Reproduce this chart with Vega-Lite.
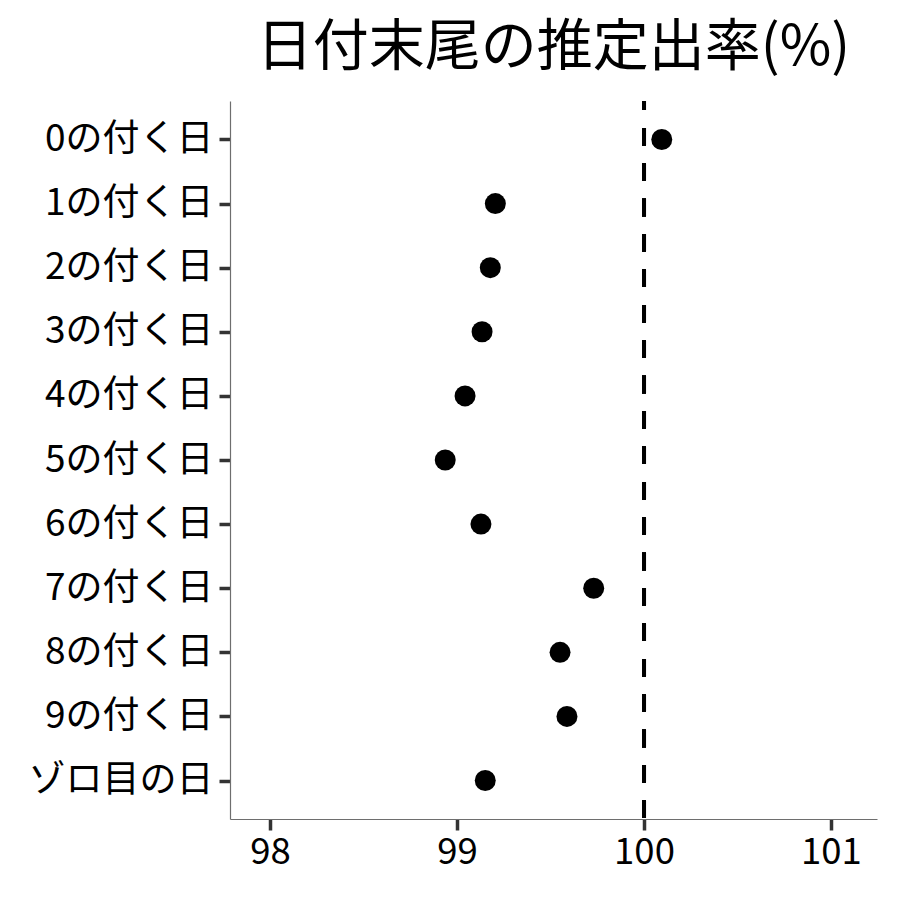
{
  "$schema": "https://vega.github.io/schema/vega-lite/v6.json",
  "autosize": "none",
  "width": 647,
  "height": 718,
  "padding": {"left": 230, "top": 101, "right": 23, "bottom": 81},
  "background": "white",
  "config": {
    "view": {"stroke": null},
    "font": "Noto Sans CJK JP"
  },
  "title": {
    "text": "日付末尾の推定出率(%)",
    "fontSize": 56,
    "fontWeight": "normal",
    "font": "Noto Sans CJK JP",
    "color": "black",
    "anchor": "middle",
    "frame": "group",
    "offset": 22
  },
  "data": {
    "values": [
      {"label": "0の付く日", "rate": 100.095},
      {"label": "1の付く日", "rate": 99.205},
      {"label": "2の付く日", "rate": 99.178},
      {"label": "3の付く日", "rate": 99.134},
      {"label": "4の付く日", "rate": 99.043},
      {"label": "5の付く日", "rate": 98.937},
      {"label": "6の付く日", "rate": 99.128},
      {"label": "7の付く日", "rate": 99.731},
      {"label": "8の付く日", "rate": 99.551},
      {"label": "9の付く日", "rate": 99.588},
      {"label": "ゾロ目の日", "rate": 99.151}
    ]
  },
  "layer": [
    {
      "mark": {"type": "rule", "color": "black", "strokeWidth": 4, "strokeDash": [17.5, 17.9], "strokeDashOffset": 8.5},
      "encoding": {
        "x": {"datum": 100, "type": "quantitative"}
      }
    },
    {
      "mark": {"type": "circle", "size": 440, "color": "black", "opacity": 1},
      "encoding": {
        "x": {
          "field": "rate",
          "type": "quantitative",
          "scale": {"domain": [97.786, 101.246], "nice": false, "zero": false},
          "axis": {
            "title": null,
            "values": [98, 99, 100, 101],
            "format": "d",
            "grid": false,
            "domainColor": "#6e6e6e",
            "domainWidth": 1.2,
            "tickColor": "#333333",
            "tickWidth": 3.5,
            "tickSize": 11,
            "labelFontSize": 36.5,
            "labelColor": "black",
            "labelFont": "Noto Sans CJK JP",
            "labelPadding": 4
          }
        },
        "y": {
          "field": "label",
          "type": "nominal",
          "sort": null,
          "scale": {"type": "point", "padding": 0.6},
          "axis": {
            "title": null,
            "grid": false,
            "domainColor": "#6e6e6e",
            "domainWidth": 1.2,
            "tickColor": "#333333",
            "tickWidth": 3.5,
            "tickSize": 11,
            "labelFontSize": 37,
            "labelColor": "black",
            "labelFont": "Noto Sans CJK JP",
            "labelPadding": 6,
            "labelLimit": 400
          }
        }
      }
    }
  ]
}
